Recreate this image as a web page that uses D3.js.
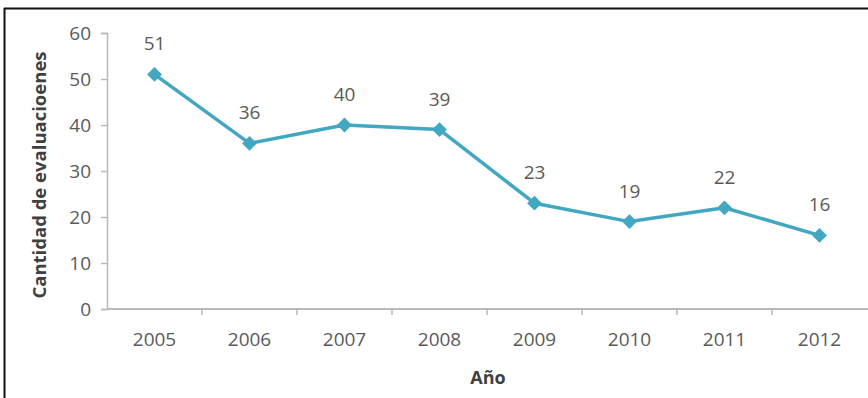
<!DOCTYPE html>
<html>
<head>
<meta charset="utf-8">
<script src="https://cdn.jsdelivr.net/npm/d3@7"></script>
<style>
  html, body { margin: 0; padding: 0; background: #fff; }
  svg { display: block; }
</style>
</head>
<body>
<div id="chart"></div>
<script>
// data
const years = ["2005", "2006", "2007", "2008", "2009", "2010", "2011", "2012"];
const evaluaciones = [51, 36, 40, 39, 23, 19, 22, 16];
const yTicks = [0, 10, 20, 30, 40, 50, 60];

const width = 868, height = 398;
const margin = {top: 33, right: 1, bottom: 89, left: 107};
const lineColor = "#42a7c1";
const axisColor = "#b9b9b9";
const textColor = "#5a5a5a";
const font = "'Open Sans', 'DejaVu Sans', sans-serif";

const svg = d3.select("#chart").append("svg")
    .attr("width", width)
    .attr("height", height);

// outer frame (top + left only visible)
svg.append("line")
    .attr("x1", 4).attr("x2", width).attr("y1", 8.5).attr("y2", 8.5)
    .style("stroke", "#111").style("stroke-width", 2);
svg.append("line")
    .attr("x1", 4.5).attr("x2", 4.5).attr("y1", 8).attr("y2", height)
    .style("stroke", "#111").style("stroke-width", 2);

const x = d3.scaleBand()
    .domain(years)
    .range([margin.left, width - margin.right]);

const y = d3.scaleLinear()
    .domain([0, 60])
    .range([height - margin.bottom, margin.top]);

// y axis
const yAxis = svg.append("g")
    .attr("transform", `translate(${margin.left},0)`)
    .call(d3.axisLeft(y).tickValues(yTicks).tickSize(6).tickPadding(10));
yAxis.select(".domain").style("stroke", axisColor).style("stroke-width", 1.5);
yAxis.selectAll(".tick line").style("stroke", axisColor).style("stroke-width", 1.5);
yAxis.selectAll(".tick text")
    .style("font-family", font).style("font-size", "19px").style("fill", textColor);

// x axis, ticks sit between categories
const xAxis = svg.append("g")
    .attr("transform", `translate(0,${y(0)})`);
xAxis.append("line")
    .attr("x1", margin.left).attr("x2", width)
    .style("stroke", axisColor).style("stroke-width", 2);
xAxis.selectAll(".sep")
    .data(years.slice(1))
    .enter().append("line")
    .attr("class", "sep")
    .attr("x1", d => x(d)).attr("x2", d => x(d))
    .attr("y1", 0).attr("y2", 6)
    .style("stroke", axisColor).style("stroke-width", 1.5);
xAxis.selectAll(".lbl")
    .data(years)
    .enter().append("text")
    .attr("class", "lbl")
    .attr("x", d => x(d) + x.bandwidth() / 2)
    .attr("y", 37)
    .attr("text-anchor", "middle")
    .style("font-family", font).style("font-size", "19px").style("fill", textColor)
    .text(d => d);

// axis titles
svg.append("text")
    .attr("x", 488)
    .attr("y", 384)
    .attr("text-anchor", "middle")
    .style("font-family", font).style("font-size", "18px").style("font-weight", "bold")
    .style("fill", "#404040")
    .text("Año");

svg.append("text")
    .attr("transform", `translate(46,${(y(0) + y(60)) / 2 + 4}) rotate(-90)`)
    .attr("text-anchor", "middle")
    .style("font-family", font).style("font-size", "18.5px").style("font-weight", "bold")
    .style("fill", "#404040")
    .text("Cantidad de evaluacioenes");

const points = years.map((d, i) => ({year: d, value: evaluaciones[i]}));
const cx = d => x(d.year) + x.bandwidth() / 2;

// line
svg.append("path")
    .datum(points)
    .attr("d", d3.line().x(cx).y(d => y(d.value)))
    .style("fill", "none")
    .style("stroke", lineColor)
    .style("stroke-width", 3.5)
    .style("stroke-linejoin", "round");

// diamond markers
svg.selectAll(".marker")
    .data(points)
    .enter().append("path")
    .attr("class", "marker")
    .attr("transform", d => `translate(${cx(d)},${y(d.value)})`)
    .attr("d", d3.symbol().type(d3.symbolDiamond2).size(140))
    .style("fill", lineColor);

// data labels
svg.selectAll(".val")
    .data(points)
    .enter().append("text")
    .attr("class", "val")
    .attr("x", cx)
    .attr("y", d => y(d.value) - 24)
    .attr("text-anchor", "middle")
    .style("font-family", font).style("font-size", "19px").style("fill", textColor)
    .text(d => d.value);
</script>
</body>
</html>
